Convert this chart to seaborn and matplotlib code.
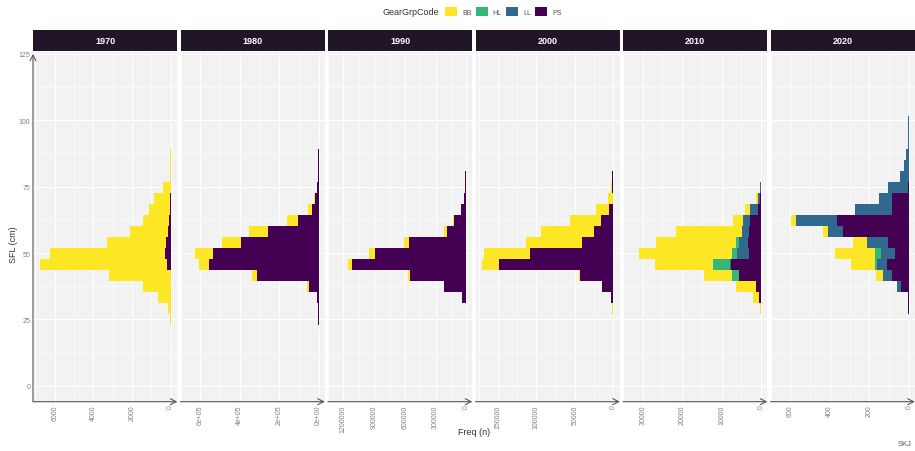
import numpy as np
import pandas as pd
import matplotlib
matplotlib.use("Agg")
import matplotlib.pyplot as plt
from matplotlib.patches import Patch
import seaborn as sns

years = [1970, 1980, 1990, 2000, 2010, 2020]
gears = ["BB", "HL", "LL", "PS"]
gear_colors = ["#FDE725", "#35B779", "#31688E", "#440154"]

# fork-length classes (cm), 20 equal-width bins
sfl_edges = [float(v) for v in np.linspace(22.7, 105.6, 21)]

# number of fish per length class, by gear group and decade
freq_BB = {
    1970: [50, 140, 655, 1430, 3210, 6610, 5980, 3060, 1950, 1370, 1100, 850, 390, 40, 30, 20, 0, 0, 0, 0],
    1980: [0, 0, 0, 8000, 24000, 51000, 91000, 96000, 96000, 56000, 24000, 3000, 2000, 0, 0, 0, 0, 0, 0, 0],
    1990: [0, 0, 0, 0, 15000, 44000, 53000, 50000, 30000, 15000, 0, 0, 0, 0, 0, 0, 0, 0, 0, 0],
    2000: [0, 1000, 0, 0, 2000, 22500, 59600, 73000, 69000, 40000, 17400, 6000, 2500, 0, 0, 0, 0, 0, 0, 0],
    2010: [0, 200, 1600, 5200, 7100, 14500, 23700, 20200, 16700, 2500, 1200, 600, 0, 0, 0, 0, 0, 0, 0, 0],
    2020: [0, 0, 0, 0, 35, 123, 202, 68, 23, 26, 0, 0, 0, 0, 0, 0, 0, 0, 0, 0],
}
freq_HL = {
    1970: [0] * 20,
    1980: [0] * 20,
    1990: [0] * 20,
    2000: [0] * 20,
    2010: [0, 0, 0, 0, 1700, 4500, 1300, 1000, 0, 0, 0, 0, 0, 0, 0, 0, 0, 0, 0, 0],
    2020: [0, 0, 0, 0, 0, 11, 30, 0, 0, 0, 0, 0, 0, 0, 0, 0, 0, 0, 0, 0],
}
freq_LL = {
    1970: [0] * 20,
    1980: [0] * 20,
    1990: [0] * 20,
    2000: [0] * 20,
    2010: [0, 0, 0, 0, 100, 200, 2900, 2100, 1700, 1800, 2000, 300, 300, 150, 150, 120, 100, 80, 60, 0],
    2020: [0, 0, 0, 23, 45, 50, 71, 106, 79, 205, 189, 68, 100, 47, 27, 14, 5, 3, 5, 0],
}
freq_PS = {
    1970: [0, 0, 0, 0, 0, 170, 280, 230, 130, 80, 40, 30, 0, 0, 0, 0, 0, 0, 0, 0],
    1980: [1500, 1000, 8000, 51000, 312000, 557000, 536000, 392000, 256000, 104000, 32000, 19000, 8000, 2000, 1500, 1000, 0, 0, 0, 0],
    1990: [0, 5000, 44000, 222000, 554000, 1111000, 895000, 557000, 193000, 118000, 50000, 24000, 15000, 9000, 5000, 3000, 2000, 0, 0, 0],
    2000: [0, 0, 3500, 14000, 43000, 148000, 108000, 40000, 25000, 16000, 5600, 500, 1000, 1000, 500, 0, 0, 0, 0, 0],
    2010: [0, 100, 500, 1300, 5500, 7600, 3100, 3400, 3100, 2900, 900, 400, 100, 0, 0, 0, 0, 0, 0, 0],
    2020: [0, 3, 5, 39, 85, 111, 70, 108, 332, 365, 85, 85, 5, 0, 0, 0, 0, 0, 0, 0],
}

# frequency axis breaks for each panel
x_breaks = {
    1970: [6000, 4000, 2000, 0],
    1980: [600000, 400000, 200000, 0],
    1990: [1200000, 900000, 600000, 300000, 0],
    2000: [150000, 100000, 50000, 0],
    2010: [30000, 20000, 10000, 0],
    2020: [600, 400, 200, 0],
}
x_break_labels = {
    1970: ["6000", "4000", "2000", "0"],
    1980: ["6e+05", "4e+05", "2e+05", "0e+00"],
    1990: ["1200000", "900000", "600000", "300000", "0"],
    2000: ["150000", "100000", "50000", "0"],
    2010: ["30000", "20000", "10000", "0"],
    2020: ["600", "400", "200", "0"],
}
y_breaks = [0, 25, 50, 75, 100, 125]

# long table: one row per decade / gear / length class
centers = [(a + b) / 2 for a, b in zip(sfl_edges[:-1], sfl_edges[1:])]
rows = []
for gear, table in zip(gears, [freq_BB, freq_HL, freq_LL, freq_PS]):
    for yr in years:
        for c, n in zip(centers, table[yr]):
            rows.append((yr, gear, c, n))
df = pd.DataFrame(rows, columns=["year", "GearGrpCode", "SFL", "n"])

sns.set_theme(style="white")
plt.rcParams["font.family"] = ["Liberation Sans", "DejaVu Sans"]

W, H = 915, 452
fig = plt.figure(figsize=(W / 100, H / 100), dpi=100)

palette = dict(zip(gears, gear_colors))
panel_left, panel_w, panel_gap = 33, 144.3, 3.2
panel_top, panel_bottom = 53, 402.7
strip_top, strip_bottom = 30.7, 51.7
tick_col = "#808080"
axis_col = "#555555"

for i, yr in enumerate(years):
    x0 = panel_left + i * (panel_w + panel_gap)
    ax = fig.add_axes([x0 / W, 1 - panel_bottom / H, panel_w / W,
                       (panel_bottom - panel_top) / H])
    sub = df[df["year"] == yr]
    sns.histplot(data=sub, y="SFL", weights="n", hue="GearGrpCode",
                 hue_order=gears, palette=palette, multiple="stack",
                 bins=sfl_edges, alpha=1, linewidth=0, legend=False, ax=ax)

    peak = sub.groupby("SFL")["n"].sum().max()
    ax.set_xlim(1.05 * peak, -0.05 * peak)
    ax.set_ylim(-6.0, 125.7)

    ax.set_facecolor("#F2F2F2")
    ax.set_axisbelow(True)
    xb = x_breaks[yr]
    ax.set_xticks(xb)
    ax.set_xticklabels(x_break_labels[yr], rotation=90)
    step = abs(xb[0] - xb[1])
    ax.set_xticks([v + step / 2 for v in xb] + [xb[0] + step / 2], minor=True)
    ax.set_yticks(y_breaks)
    ax.set_yticks([v + 12.5 for v in y_breaks[:-1]], minor=True)
    ax.grid(True, which="major", color="white", lw=0.8)
    ax.grid(True, which="minor", color="white", lw=0.4)
    ax.tick_params(which="both", length=0, labelsize=5, labelcolor=tick_col, pad=2)
    if i == 0:
        ax.set_yticklabels([str(v) for v in y_breaks])
    else:
        ax.set_yticklabels([])
    ax.set_xlabel("")
    ax.set_ylabel("")
    for s in ax.spines.values():
        s.set_visible(False)

    arrow = dict(arrowstyle="->,head_length=0.35,head_width=0.18", color=axis_col,
                 lw=0.8, shrinkA=0, shrinkB=0)
    ax.annotate("", xy=(1, 0), xytext=(0, 0), xycoords="axes fraction",
                textcoords="axes fraction", arrowprops=arrow, annotation_clip=False)
    if i == 0:
        ax.annotate("", xy=(0, (125 + 6.0) / 131.7), xytext=(0, 0),
                    xycoords="axes fraction", textcoords="axes fraction",
                    arrowprops=arrow, annotation_clip=False)

    # facet strip
    sax = fig.add_axes([x0 / W, 1 - strip_bottom / H, panel_w / W,
                        (strip_bottom - strip_top) / H])
    sax.set_facecolor("#211528")
    sax.set_xticks([])
    sax.set_yticks([])
    for s in sax.spines.values():
        s.set_visible(False)
    sax.text(0.5, 0.5, str(yr), color="white", fontsize=6.5, fontweight="bold",
             ha="center", va="center", transform=sax.transAxes)

fig.text(14 / W, 1 - 245 / H, "SFL (cm)", rotation=90, ha="center", va="center",
         fontsize=6.5, color="#333333")
fig.text(474 / W, 1 - 433 / H, "Freq (n)", ha="center", va="center",
         fontsize=6.5, color="#333333")
fig.text(912 / W, 1 - 445 / H, "SKJ", ha="right", va="center",
         fontsize=5.5, color="#555555")

# legend: title on the left, keys in one row
fig.text(439 / W, 1 - 12.5 / H, "GearGrpCode", ha="right", va="center",
         fontsize=6.5, color="#333333")
handles = [Patch(facecolor=c, edgecolor="none") for c in gear_colors]
fig.legend(handles, gears, loc="center left", bbox_to_anchor=(445 / W, 1 - 12.5 / H),
           ncol=4, frameon=False, fontsize=5, handlelength=1.75, handleheight=1.75,
           handletextpad=0.7, columnspacing=0.6, borderaxespad=0, borderpad=0,
           labelcolor="#555555")

fig.savefig("out.png", dpi=100, facecolor="white")
